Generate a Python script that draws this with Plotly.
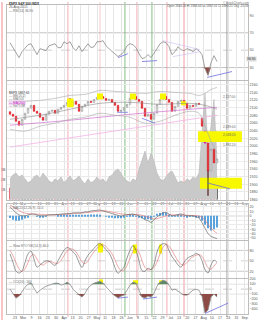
import plotly.graph_objects as go

# ---------------- data ----------------
tick_labels = ["23", "Mar", "9", "16", "23", "30", "Apr", "13", "20", "27", "May", "11", "18", "26",
               "Jun", "8", "15", "22", "29", "Jul", "13", "20", "27", "Aug", "10", "17", "24", "31", "Sep"]

opens = [2090, 2083.2, 2078, 2065, 2054.6, 2070.2, 2085.8, 2098.8, 2106.6, 2091,
         2085.8, 2075.4, 2067.6, 2083.2, 2091, 2093.6, 2085.8, 2096.2, 2101.4, 2106.6,
         2124, 2106, 2117, 2109.2, 2091, 2104, 2109.2, 2117, 2114.4, 2122.2,
         2127.4, 2130, 2124.8, 2119.6, 2122.2, 2114.4, 2106.6, 2091, 2093.6, 2101.4,
         2109.2, 2124.8, 2130, 2122.2, 2117, 2098.8, 2078, 2083.2, 2070.2, 2085.8,
         2109.2, 2122.2, 2130, 2122.2, 2114.4, 2091, 2104, 2117, 2119.6, 2111.8,
         2098.8, 2106.6, 2104, 2111.8, 2072, 2039, 2008, 1935, 1992, 1956]
closes = [2083.2, 2078, 2065, 2054.6, 2070.2, 2085.8, 2098.8, 2106.6, 2091, 2085.8,
          2075.4, 2067.6, 2083.2, 2091, 2093.6, 2085.8, 2096.2, 2101.4, 2106.6, 2114.4,
          2106, 2117, 2109.2, 2091, 2104, 2109.2, 2117, 2114.4, 2122.2, 2127.4,
          2130, 2124.8, 2119.6, 2122.2, 2114.4, 2106.6, 2091, 2093.6, 2101.4, 2109.2,
          2124.8, 2130, 2122.2, 2117, 2098.8, 2078, 2083.2, 2070.2, 2085.8, 2109.2,
          2122.2, 2130, 2122.2, 2114.4, 2091, 2104, 2117, 2119.6, 2111.8, 2098.8,
          2106.6, 2104, 2111.8, 2109.2, 2052, 2008, 1935, 1992, 1956, 1966]
wick_lows = {66: 1870.0}
highlight_days = [20, 65]

vol_area = [21, 25, 27, 23, 25, 21, 17, 19, 23, 25,
            21, 27, 23, 19, 17, 21, 19, 23, 17, 21,
            24, 19, 21, 24, 19, 16, 21, 17, 19, 23,
            19, 21, 17, 23, 25, 29, 31, 27, 21, 19,
            17, 21, 19, 31, 39, 49, 37, 47, 39, 27,
            21, 19, 23, 27, 29, 23, 17, 19, 17, 21,
            19, 23, 21, 27, 69, 107, 49, 74, 101, 39]
vol_bars = [12, 14, 16, 13, 15, 11, 10, 12, 14, 15,
            12, 16, 13, 11, 10, 12, 11, 13, 10, 12,
            14, 11, 12, 13, 11, 9, 12, 10, 11, 13,
            11, 12, 10, 13, 14, 16, 17, 15, 12, 11,
            10, 12, 11, 15, 18, 22, 17, 20, 16, 13,
            11, 10, 12, 14, 15, 13, 10, 11, 10, 12,
            11, 13, 12, 14, 20, 30, 24, 22, 26, 18]

bb_days = [0, 5, 10, 15, 20, 25, 30, 35, 40, 45, 50, 55, 60, 63, 65, 67, 69]
bb_upper = [2109.2, 2117, 2119.6, 2124.8, 2132.6, 2135.2, 2145.6, 2143, 2140.4, 2137.8,
            2143, 2140.4, 2137.8, 2132.6, 2137.8, 2148.2, 2153.4]
bb_lower = [2044.2, 2039, 2052, 2059.8, 2070.2, 2075.4, 2085.8, 2080.6, 2075.4, 2059.8,
            2065, 2080.6, 2091, 2085.8, 2052, 2013, 1981.8]
ma_days = [0, 10, 20, 30, 40, 50, 60, 65, 69]
ma50 = [2070.2, 2080.6, 2096.2, 2111.8, 2114.4, 2109.2, 2111.8, 2106.6, 2096.2]
ma200_days = [0, 20, 40, 60, 69]
ma200 = [2054.6, 2067.6, 2083.2, 2096.2, 2101.4]
trend_days = [0, 69]
trend_pink = [1997.4, 2080.6]

rsi = [58.6, 52.9, 46, 41.4, 48.3, 52.9, 56.3, 57.4, 51.7, 44.9,
       51.7, 50.6, 49.4, 55.1, 56.3, 57.4, 52.9, 52.9, 59.7, 57.4,
       59.7, 52.9, 49.4, 55.1, 48.3, 52.9, 57.4, 52.9, 54, 59.7,
       59.7, 60.9, 55.1, 51.7, 48.3, 44.9, 42.6, 44.9, 48.3, 55.1,
       57.4, 56.3, 52.9, 46, 40.3, 41.4, 44.9, 41.4, 46, 51.7,
       57.4, 59.7, 58.6, 54, 44.9, 48.3, 54, 50.6, 49.4, 51.7,
       50.6, 48.3, 51.7, 49.4, 44.9, 28.9, 20.9, 35.7, 43.7, 36.9]

macd = [20, 13, 6.6, 2, 0, 0, 2, 4, 4, 2,
        0, 0, 0, 2, 2, 2, 3, 4, 4, 4,
        5, 6.6, 6.6, 6.6, 6.6, 8.8, 8.8, 11, 12, 13,
        13, 11, 8.8, 6.6, 4.4, 2, 0, -1, 1, 2,
        4.4, 4.4, 2, 0, -4.4, -8.8, -11, -15, -9, -2,
        2, 6.6, 7.7, 4.4, 0, 1, 3.3, 4.4, 2, 0,
        0, 0, -2, -4.4, -15, -29, -40, -46, -49, -51]
signal = [24, 20, 15, 11, 8, 6, 4.5, 4, 4, 3.5,
          3, 2.5, 2, 2, 2, 2, 2.3, 2.7, 3, 3.3,
          3.8, 4.5, 5.2, 5.7, 6, 6.7, 7.3, 8.2, 9.2, 10.2,
          11, 11.3, 11, 10, 8.8, 7.3, 5.7, 4.3, 3.2, 2.8,
          3, 3.3, 3.2, 2.6, 1.2, -1, -3.5, -6.2, -7.2, -6.5,
          -4.5, -2, 0.5, 2, 2.2, 2, 2.2, 2.6, 2.6, 2.2,
          1.6, 1.1, 0.5, -0.5, -3, -10, -20, -28, -34, -39]
hist = [-5, -9, -11, -11, -9, -6, -3, 0, 0, -1.5,
        -3, -2.5, -2, 0, 0, 0, 1, 1, 1, 0.8,
        1.2, 2, 1.4, 1, 0.6, 2, 1.5, 2.8, 2.8, 2.8,
        2, 0, -2, -3.4, -4.4, -5.3, -5.7, -5.3, -2.2, -1.8,
        1.4, 1.1, -1.2, -2.6, -5.6, -7.8, -7.5, -8.8, -2, 4.5,
        6.5, 8, 7, 2.4, -2, -1, 1, 1.8, -0.6, -2.2,
        -1.6, -1.1, -2.5, -4, -11, -20, -28, -33, -30, -26]

stoch_k = [70, 46, 20, 15, 21, 45, 70, 78, 55, 32,
           38, 45, 50, 49, 42, 37, 50, 66, 80, 88,
           85, 76, 66, 45, 31, 50, 66, 76, 86, 95,
           100, 92, 82, 73, 55, 30, 14, 22, 32, 58,
           80, 94, 80, 50, 22, 20, 29, 25, 40, 75,
           94, 99, 98, 80, 62, 51, 38, 32, 45, 57,
           62, 66, 71, 67, 50, 25, 15, 38, 52, 46]
stoch_d = [80, 65, 45, 27, 19, 27, 45, 64, 68, 55,
           42, 38, 44, 48, 47, 43, 43, 51, 65, 78,
           84, 83, 76, 62, 47, 42, 49, 64, 76, 86,
           94, 96, 91, 82, 70, 53, 33, 22, 23, 37,
           57, 77, 85, 75, 51, 31, 24, 25, 31, 47,
           70, 89, 97, 92, 80, 64, 50, 40, 38, 45,
           55, 62, 66, 68, 63, 47, 30, 26, 35, 45]

cci = [0, -100, -180, -140, -40, 40, 100, 120, 20, -80,
       -20, 20, 60, 80, 100, 120, 120, 80, 100, 140,
       100, 0, -60, -120, -160, -80, 20, 80, 120, 140,
       160, 120, 40, -20, -80, -140, -180, -140, -120, -20,
       80, 140, 120, -20, -160, -180, -140, -160, -80, 60,
       140, 180, 160, 80, -20, 0, -40, -80, -120, -120,
       -60, -20, 0, -20, -140, -480, -420, -160, -100, -160]

# annotation marks (data coordinates)
price_boxes = [(19, 21.2, 2101.4, 2124.8), (29, 31, 2122.2, 2137.8), (40, 42, 2122.2, 2137.8),
               (50, 52, 2122.2, 2137.8), (57, 58.7, 2106.6, 2117),
               (62.7, 77.3, 2010.4, 2039), (63.3, 77.3, 1888.2, 1916.8)]
stoch_boxes = [(29.3, 31, 74, 100), (41, 42.3, 71, 97), (49.7, 51, 71, 97)]
cci_boxes = [(29.7, 31, 100, 200), (41, 42.7, 100, 180), (49.7, 51, 100, 180)]
rsi_blue = [(36, 41.4, 39.3, 46), (44, 36.9, 49, 38), (65.7, 18.6, 74, 25.4)]
rsi_lav = [(51, 60.9, 63.3, 50.6), (54.3, 42.6, 63.3, 48.3)]
price_blue = [(35.7, 2088.4, 39.3, 2088.4), (44, 2072.8, 48.3, 2059.8), (65.7, 1903.8, 73.3, 1888.2)]
cci_blue = [(36, -180, 39.3, -160), (44.3, -200, 49, -160), (65, -490, 72.7, -280)]
vlines = [(19.3, "#f2a6ae", 0.9), (30, "#f2c4c8", 0.9), (38.3, "#b3d8b3", 1.6), (42.3, "#f2a6ae", 0.9),
          (47.3, "#b3d8b3", 1.6), (52.3, "#f2a6ae", 0.9), (58, "#ee9aa2", 1.0), (72.3, "#9a9a9a", 0.9)]
fib_levels = [(2117, "2,117.00"), (2039, "2,039.00"), (2018.2, "2,018.20"), (1992.2, "1,992.20")]

# ---------------- layout helpers ----------------
W, H = 258, 320
ML, MR, MT, MB = 7, 10, 0, 6
PW, PH = W - ML - MR, H - MT - MB
N = len(closes)
days = list(range(N))


def dom(top, bottom):
    return [(PH - bottom) / PH, (PH - top) / PH]


def px(xp):
    return (xp - ML) / PW


def py(yp):
    return (PH - yp) / PH


X_RANGE = [-1, -1 + PW / 3]
tick_pos = [(5 + 8.2 * k) / 3 for k in range(len(tick_labels))]
GRID = "#e6e6e6"
FRAME = "#bdbdbd"
FONT = "Liberation Sans"
TF = dict(family=FONT, size=3.6, color="#555")

highs = [max(o, c) for o, c in zip(opens, closes)]
lows = [wick_lows.get(i, min(o, c)) for i, (o, c) in enumerate(zip(opens, closes))]

fig = go.Figure()

# volume (base axis of price panel)
fig.add_trace(go.Scatter(x=days, y=vol_area, mode="lines", fill="tozeroy", fillcolor="#c9c9c9",
                         line=dict(color="#b0b0b0", width=0.5), xaxis="x2", yaxis="y2", hoverinfo="skip"))
bar_colors = ["#e8707a" if c < o else "#707070" for o, c in zip(opens, closes)]
fig.add_trace(go.Bar(x=days, y=vol_bars, width=0.45, marker=dict(color=bar_colors, line=dict(width=0)),
                     xaxis="x2", yaxis="y2", hoverinfo="skip"))

# yellow highlight boxes in price panel (above volume, below candles)
for x0, x1, y0, y1 in price_boxes:
    fig.add_trace(go.Scatter(x=[x0, x1, x1, x0, x0], y=[y0, y0, y1, y1, y0], mode="lines", fill="toself",
                             fillcolor="#f7f700", line=dict(width=0, color="#f7f700"),
                             xaxis="x2", yaxis="y3", hoverinfo="skip"))

# price overlays
fig.add_trace(go.Scatter(x=trend_days, y=trend_pink, mode="lines", line=dict(color="#f3b3e6", width=0.8),
                         xaxis="x2", yaxis="y3", hoverinfo="skip"))
fig.add_trace(go.Scatter(x=ma200_days, y=ma200, mode="lines", line=dict(color="#d070d0", width=0.7, shape="spline"),
                         xaxis="x2", yaxis="y3", hoverinfo="skip"))
for band in (bb_upper, bb_lower):
    fig.add_trace(go.Scatter(x=bb_days, y=band, mode="lines", line=dict(color="#a8a8a8", width=0.6, shape="spline"),
                             xaxis="x2", yaxis="y3", hoverinfo="skip"))
fig.add_trace(go.Scatter(x=ma_days, y=ma50, mode="lines", line=dict(color="#8c8c8c", width=0.6, shape="spline"),
                         xaxis="x2", yaxis="y3", hoverinfo="skip"))

fig.add_trace(go.Candlestick(x=days, open=opens, high=highs, low=lows, close=closes,
                             increasing=dict(line=dict(color="#8a8a8a", width=0.6), fillcolor="white"),
                             decreasing=dict(line=dict(color="#e0202a", width=0.6), fillcolor="#e0202a"),
                             whiskerwidth=0, xaxis="x2", yaxis="y3", hoverinfo="skip"))
fig.add_trace(go.Candlestick(x=highlight_days, open=[opens[i] for i in highlight_days],
                             high=[highs[i] for i in highlight_days], low=[lows[i] for i in highlight_days],
                             close=[closes[i] for i in highlight_days],
                             increasing=dict(line=dict(color="#d020d0", width=0.6), fillcolor="#d020d0"),
                             decreasing=dict(line=dict(color="#d020d0", width=0.6), fillcolor="#d020d0"),
                             whiskerwidth=0, xaxis="x2", yaxis="y3", hoverinfo="skip"))
# crash-day wick in black
fig.add_trace(go.Scatter(x=[66, 66], y=[lows[66], closes[66]], mode="lines",
                         line=dict(color="#111", width=0.8), xaxis="x2", yaxis="y3", hoverinfo="skip"))


def seg_trace(segs, color, xa, ya, width=0.8):
    xs, ys = [], []
    for x0, y0, x1, y1 in segs:
        xs += [x0, x1, None]
        ys += [y0, y1, None]
    return go.Scatter(x=xs, y=ys, mode="lines", line=dict(color=color, width=width),
                      xaxis=xa, yaxis=ya, hoverinfo="skip")


fig.add_trace(seg_trace(price_blue, "#7070e0", "x2", "y3"))

# RSI
fig.add_trace(go.Scatter(x=days, y=[30] * N, mode="lines", line=dict(width=0, color="rgba(0,0,0,0)"),
                         xaxis="x", yaxis="y", hoverinfo="skip"))
fig.add_trace(go.Scatter(x=days, y=[min(v, 30) for v in rsi], mode="lines", fill="tonexty",
                         fillcolor="#8e4a44", line=dict(width=0, color="rgba(0,0,0,0)"),
                         xaxis="x", yaxis="y", hoverinfo="skip"))
fig.add_trace(go.Scatter(x=days, y=rsi, mode="lines", line=dict(color="#8a8a8a", width=0.8),
                         xaxis="x", yaxis="y", hoverinfo="skip"))
fig.add_trace(seg_trace(rsi_blue, "#7070e0", "x", "y"))
fig.add_trace(seg_trace(rsi_lav, "#c8b8f0", "x", "y", 0.6))

# MACD
fig.add_trace(go.Bar(x=days, y=hist, width=0.4, marker=dict(color="#5aa2dc", line=dict(width=0)),
                     xaxis="x3", yaxis="y4", hoverinfo="skip"))
fig.add_trace(go.Scatter(x=days, y=signal, mode="lines", line=dict(color="#e07070", width=0.6),
                         xaxis="x3", yaxis="y4", hoverinfo="skip"))
fig.add_trace(go.Scatter(x=days, y=macd, mode="lines", line=dict(color="#555", width=0.6),
                         xaxis="x3", yaxis="y4", hoverinfo="skip"))

# Stochastics
fig.add_trace(go.Scatter(x=days, y=stoch_d, mode="lines", line=dict(color="#e07070", width=0.6, shape="spline"),
                         xaxis="x4", yaxis="y5", hoverinfo="skip"))
fig.add_trace(go.Scatter(x=days, y=stoch_k, mode="lines", line=dict(color="#555", width=0.6, shape="spline"),
                         xaxis="x4", yaxis="y5", hoverinfo="skip"))

# CCI
fig.add_trace(go.Scatter(x=days, y=[100] * N, mode="lines", line=dict(width=0, color="rgba(0,0,0,0)"),
                         xaxis="x5", yaxis="y6", hoverinfo="skip"))
fig.add_trace(go.Scatter(x=days, y=[max(v, 100) for v in cci], mode="lines", fill="tonexty",
                         fillcolor="#5e8a6a", line=dict(width=0, color="rgba(0,0,0,0)"),
                         xaxis="x5", yaxis="y6", hoverinfo="skip"))
fig.add_trace(go.Scatter(x=days, y=[-100] * N, mode="lines", line=dict(width=0, color="rgba(0,0,0,0)"),
                         xaxis="x5", yaxis="y6", hoverinfo="skip"))
fig.add_trace(go.Scatter(x=days, y=[min(v, -100) for v in cci], mode="lines", fill="tonexty",
                         fillcolor="#8e4a44", line=dict(width=0, color="rgba(0,0,0,0)"),
                         xaxis="x5", yaxis="y6", hoverinfo="skip"))
fig.add_trace(go.Scatter(x=days, y=cci, mode="lines", line=dict(color="#8a8a8a", width=0.8),
                         xaxis="x5", yaxis="y6", hoverinfo="skip"))
fig.add_trace(seg_trace(cci_blue, "#7070e0", "x5", "y6"))

# ---------------- axes ----------------
def xax(anchor, labels, first=False):
    d = dict(domain=[0, 1], anchor=anchor, range=X_RANGE, tickvals=tick_pos, ticktext=tick_labels,
             showticklabels=labels, showgrid=True, gridcolor=GRID, gridwidth=0.5, zeroline=False,
             showline=True, mirror=True, linecolor=FRAME, linewidth=0.6, ticks="", tickfont=TF,
             rangeslider=dict(visible=False), fixedrange=True)
    if not first:
        d["matches"] = "x"
    return d


def yax(domain, rng, tickvals, side="right", grid=False, anchor="x", ticktext=None):
    d = dict(domain=domain, range=rng, tickvals=tickvals, side=side, anchor=anchor, showgrid=grid,
             gridcolor="#ebebeb", gridwidth=0.5, zeroline=False, showline=True, mirror=True,
             linecolor=FRAME, linewidth=0.6, ticks="", tickfont=TF, fixedrange=True)
    if ticktext is not None:
        d["ticktext"] = ticktext
    return d


layout = dict(
    width=W, height=H, margin=dict(l=ML, r=MR, t=MT, b=MB), paper_bgcolor="white", plot_bgcolor="white",
    showlegend=False, font=dict(family=FONT, size=4, color="#444"), barmode="overlay",
    xaxis=xax("y", False, first=True),
    xaxis2=xax("y2", True),
    xaxis3=xax("y4", False),
    xaxis4=xax("y5", False),
    xaxis5=xax("y6", True),
    yaxis=yax(dom(3, 79), [15.1, 102], [30, 50, 70, 90]),
    yaxis2=yax(dom(80, 199), [0, 119], [10, 20, 30], side="left", anchor="x2",
               ticktext=["1B", "2B", "3B"]),
    yaxis3=dict(yax(dom(80, 199), [1859.6, 2169], list(range(1860, 2170, 20)), grid=True, anchor="x2"),
                overlaying="y2"),
    yaxis4=yax(dom(203, 240), [-55, 27], list(range(-50, 30, 10)), grid=True, anchor="x3"),
    yaxis5=yax(dom(241, 278), [0, 105.7], [20, 50, 80], anchor="x4"),
    yaxis6=yax(dom(279, 314), [-500, 200], list(range(-400, 201, 100)), anchor="x5"),
)
fig.update_layout(**layout)

shapes = []
# coloured vertical marker lines through all panels
for xv, col, lw in vlines:
    shapes.append(dict(type="line", xref="x", yref="paper", x0=xv, x1=xv, y0=-0.01, y1=1,
                       line=dict(color=col, width=lw), layer="below"))
shapes.append(dict(type="line", xref="paper", yref="paper", x0=px(2), x1=px(2), y0=-0.02, y1=1,
                   line=dict(color="#f08c8c", width=1)))
# level lines
for yv, dash, col in [(70, "solid", "#9c9c9c"), (50, "dash", "#b0b0b0"), (30, "solid", "#9c9c9c")]:
    shapes.append(dict(type="line", xref="paper", yref="y", x0=0, x1=1, y0=yv, y1=yv,
                       line=dict(color=col, width=0.6, dash=dash), layer="below"))
for yv, dash, col in [(80, "solid", "#a8a8a8"), (50, "dash", "#b8b8b8"), (20, "solid", "#a8a8a8")]:
    shapes.append(dict(type="line", xref="paper", yref="y5", x0=0, x1=1, y0=yv, y1=yv,
                       line=dict(color=col, width=0.6, dash=dash), layer="below"))
shapes.append(dict(type="line", xref="paper", yref="y4", x0=0, x1=1, y0=0, y1=0,
                   line=dict(color="#9c9c9c", width=0.6), layer="below"))
for yv, dash, col in [(100, "solid", "#d0d0d0"), (0, "dash", "#a8a8a8"), (-100, "solid", "#d0d0d0")]:
    shapes.append(dict(type="line", xref="paper", yref="y6", x0=0, x1=1, y0=yv, y1=yv,
                       line=dict(color=col, width=0.6, dash=dash), layer="below"))
# yellow highlight boxes in the oscillator panels
for boxes, xa, ya in [(stoch_boxes, "x4", "y5"), (cci_boxes, "x5", "y6")]:
    for x0, x1, y0, y1 in boxes:
        shapes.append(dict(type="rect", xref=xa, yref=ya, x0=x0, x1=x1, y0=y0, y1=y1,
                           fillcolor="#f7f700", line=dict(width=0), layer="below"))
fig.update_layout(shapes=shapes)

ann = []


def text(xp, yp, s, color="#555", size=3.2, anchor="left", bg=None, bold=False):
    ann.append(dict(xref="paper", yref="paper", x=px(xp), y=py(yp), text=("<b>%s</b>" % s) if bold else s,
                    showarrow=False, xanchor=anchor, yanchor="middle",
                    font=dict(family=FONT, size=size, color=color), bgcolor=bg, borderpad=0))


text(8, 2, "$SPX S&amp;P 500 INDX", "#333", bold=True)
text(8, 5.5, "26-Aug-2015")
text(8, 9, "— RSI(14) 36.90", "#666")
text(250, 1.5, "© StockCharts.com", "#777", size=3, anchor="right")
text(250, 4.5, "Open 1940.26 Hi 1948.04 Lo 1867.01 Cl 1893.21 Chg -25.59", "#555", size=3, anchor="right")
text(8, 92, "$SPX 1867.61", "#333")
text(8, 95, "— BB(20,2)", "#777")
text(8, 98, "— MA(50)", "#777")
text(8, 101.5, "— MA(200)", "#c020c0", bg="#f0d8f0")
text(8, 105, "— Vol 5.3B", "#777")
text(8, 207.5, "— MACD(12,26,9) -51.0", "#666")
text(8, 245.5, "— Slow STO %K(14,3) 46.0", "#666")
text(8, 282, "— CCI(20) -160", "#666")
text(257, 57, "36.90", "#333", size=3.4, anchor="right", bg="#dcdcdc")
for lvl, lab in fib_levels:
    ann.append(dict(xref="x2", yref="y3", x=73, y=lvl, text=lab, showarrow=False, xanchor="center",
                    yanchor="bottom", font=dict(family=FONT, size=3.2, color="#666")))
fig.update_layout(annotations=ann)

fig.write_html("out.html")
